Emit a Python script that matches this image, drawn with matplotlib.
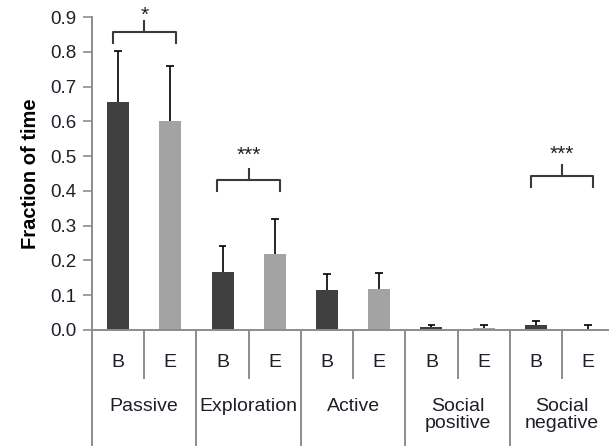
import matplotlib
matplotlib.use("Agg")
import matplotlib.pyplot as plt
import matplotlib.transforms as mtransforms

plt.rcParams['font.family'] = ['Liberation Sans', 'DejaVu Sans']

categories = ["Passive", "Exploration", "Active", "Social\npositive", "Social\nnegative"]
groups = ["B", "E"]
b_values = [0.655, 0.167, 0.115, 0.008, 0.013]
b_errors = [0.147, 0.075, 0.046, 0.007, 0.012]
e_values = [0.600, 0.218, 0.119, 0.006, 0.004]
e_errors = [0.158, 0.100, 0.046, 0.008, 0.011]
yticks = [0.0, 0.1, 0.2, 0.3, 0.4, 0.5, 0.6, 0.7, 0.8, 0.9]
ytick_labels = ["0.0", "0.1", "0.2", "0.3", "0.4", "0.5", "0.6", "0.7", "0.8", "0.9"]
# significance brackets
sig_cats = [0, 1, 4]
sig_labels = ["*", "***", "***"]
sig_levels = [0.856, 0.431, 0.443]
sig_text_y = [0.888, 0.487, 0.490]

dark = "#404040"
light = "#a3a3a3"
grey = "#8c8c8c"
txt = "#1e1e28"

fig = plt.figure(figsize=(6.09, 4.46), dpi=100)
ax = fig.add_axes([92/609, 116/446, 517/609, 313/446])

n = len(categories)
xb = [2*i + 0.5 for i in range(n)]
xe = [2*i + 1.5 for i in range(n)]
w = 0.42
cap = 0.075


def draw_series(xs, vals, errs, color):
    ax.bar(xs, vals, width=w, color=color, zorder=2)
    tops = [v + e for v, e in zip(vals, errs)]
    ax.vlines(xs, vals, tops, colors="black", lw=1.2, zorder=3)
    ax.hlines(tops, [x - cap for x in xs], [x + cap for x in xs], colors="black", lw=1.2, zorder=3)


draw_series(xb, b_values, b_errors, dark)
draw_series(xe, e_values, e_errors, light)

ax.set_xlim(0, 9.9)
ax.set_ylim(0, 0.9)
ax.set_yticks(yticks)
ax.set_yticklabels(ytick_labels, fontsize=13.5, color=txt)
ax.tick_params(axis="y", length=6.5, width=1.2, color=grey, pad=5)
ax.set_xticks([])
for s in ["top", "right"]:
    ax.spines[s].set_visible(False)
for s in ["left", "bottom"]:
    ax.spines[s].set_color(grey)
    ax.spines[s].set_linewidth(1.4)

ax.set_ylabel("Fraction of time", fontsize=14.5, fontweight="bold", color="black", labelpad=7)

trans = mtransforms.blended_transform_factory(ax.transData, ax.transAxes)
bottom_frac = -0.38
sub_frac = -0.153
for i in range(n + 1):
    ax.plot([2*i, 2*i], [0, bottom_frac], transform=trans, color=grey, lw=1.4, clip_on=False)
for i in range(n):
    ax.plot([2*i + 1, 2*i + 1], [0, sub_frac], transform=trans, color=grey, lw=1.4, clip_on=False)
    ax.text(xb[i], -0.105, groups[0], transform=trans, ha="center", va="center", fontsize=14, color=txt)
    ax.text(xe[i], -0.105, groups[1], transform=trans, ha="center", va="center", fontsize=14, color=txt)
    ax.text(2*i + 1, -0.218, categories[i], transform=trans, ha="center", va="top", fontsize=14,
            color=txt, linespacing=1.02)

for ci, lab, lev, ty in zip(sig_cats, sig_labels, sig_levels, sig_text_y):
    x1 = xb[ci] - 0.1
    x2 = xe[ci] + 0.1
    xm = (x1 + x2) / 2
    ax.plot([x1, x1, x2, x2], [lev - 0.032, lev, lev, lev - 0.032], color="#3a3a3a", lw=1.5,
            clip_on=False, solid_joinstyle="round")
    ax.plot([xm, xm], [lev, lev + 0.032], color="#3a3a3a", lw=1.5, clip_on=False)
    ax.text(xm, ty, lab, ha="center", va="baseline", fontsize=15, color=txt)

fig.savefig("out.png", dpi=100)
